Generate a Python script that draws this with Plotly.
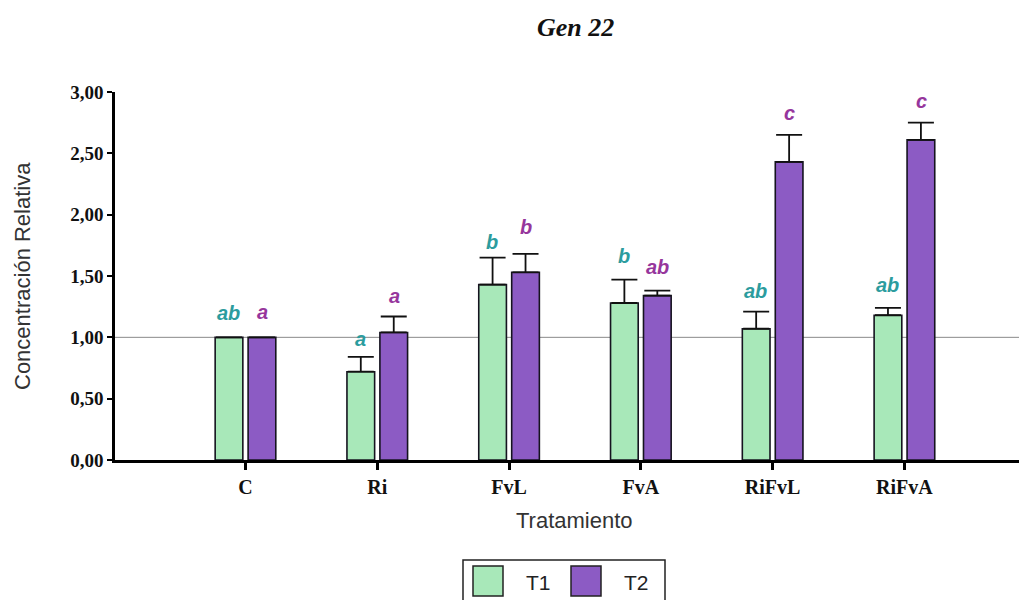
import plotly.graph_objects as go

categories = ["C", "Ri", "FvL", "FvA", "RiFvL", "RiFvA"]
t1_values = [1.00, 0.72, 1.43, 1.28, 1.07, 1.18]
t1_err = [0.00, 0.12, 0.22, 0.19, 0.14, 0.06]
t2_values = [1.00, 1.04, 1.53, 1.34, 2.43, 2.61]
t2_err = [0.00, 0.13, 0.15, 0.04, 0.22, 0.14]
t1_letters = ["ab", "a", "b", "b", "ab", "ab"]
t2_letters = ["a", "a", "b", "ab", "c", "c"]
t1_letter_y = [1.20, 0.99, 1.78, 1.66, 1.38, 1.43]
t2_letter_y = [1.21, 1.34, 1.90, 1.57, 2.83, 2.93]
y_ticks = [0, 0.5, 1.0, 1.5, 2.0, 2.5, 3.0]

GREEN = "#a8e8b9"
PURPLE = "#8c5bc4"
OUTLINE = "#15131f"
TEAL_TXT = "#2c9c9e"
PURP_TXT = "#96369c"

# page body has an 8px margin; figure coordinates = page coordinates - 8
OFF = 8
W, H = 1027 - OFF, 600 - OFF
L, T = 115 - OFF, 92 - OFF
pw, ph = 1027 - 115, 460 - 92
R = W - L - pw
B = H - T - ph


def px(x):
    return (x - OFF - L) / pw


def py(y):
    return (T + ph - (y - OFF)) / ph


fig = go.Figure()
fig.add_trace(go.Bar(
    name="T1", x=categories, y=t1_values,
    marker=dict(color=GREEN, line=dict(color=OUTLINE, width=1.6)),
    error_y=dict(type="data", symmetric=False, array=t1_err,
                 arrayminus=[0] * len(t1_err), color="#111111",
                 thickness=1.8, width=13),
    showlegend=False,
))
fig.add_trace(go.Bar(
    name="T2", x=categories, y=t2_values,
    marker=dict(color=PURPLE, line=dict(color=OUTLINE, width=1.6)),
    error_y=dict(type="data", symmetric=False, array=t2_err,
                 arrayminus=[0] * len(t2_err), color="#111111",
                 thickness=1.8, width=13),
    showlegend=False,
))

# reference line at 1
fig.add_shape(type="line", xref="paper", yref="y", x0=0, x1=1, y0=1, y1=1,
              line=dict(color="#8a8a8a", width=1), layer="below")

annotations = []
for i, c in enumerate(categories):
    annotations.append(dict(x=c, y=t1_letter_y[i], xref="x", yref="y",
                            text="<b><i>%s</i></b>" % t1_letters[i], showarrow=False,
                            xshift=-17, xanchor="center", yanchor="middle",
                            font=dict(family="Liberation Sans", size=20,
                                      color=TEAL_TXT)))
    annotations.append(dict(x=c, y=t2_letter_y[i], xref="x", yref="y",
                            text="<b><i>%s</i></b>" % t2_letters[i], showarrow=False,
                            xshift=17, xanchor="center", yanchor="middle",
                            font=dict(family="Liberation Sans", size=20,
                                      color=PURP_TXT)))

# title
annotations.append(dict(x=px(575), y=py(27), xref="paper", yref="paper",
                        xanchor="center", yanchor="middle",
                        text="<b><i>Gen 22</i></b>", showarrow=False,
                        font=dict(family="Liberation Serif", size=26,
                                  color="#111111")))
# x axis title
annotations.append(dict(x=px(574), y=py(520), xref="paper", yref="paper",
                        xanchor="center", yanchor="middle",
                        text="Tratamiento", showarrow=False,
                        font=dict(family="Liberation Sans", size=22, color="#333333")))
# y axis title
annotations.append(dict(x=px(22), y=py(276), xref="paper", yref="paper",
                        xanchor="center", yanchor="middle", textangle=-90,
                        text="Concentración Relativa", showarrow=False,
                        font=dict(family="Liberation Sans", size=22, color="#333333")))

# manual legend
shapes = [
    dict(type="rect", xref="paper", yref="paper",
         x0=px(463), x1=px(665), y0=py(606), y1=py(560),
         line=dict(color="#222222", width=1.5), fillcolor="white"),
    dict(type="rect", xref="paper", yref="paper",
         x0=px(473), x1=px(503), y0=py(596), y1=py(566),
         line=dict(color="#222222", width=1.5), fillcolor=GREEN),
    dict(type="rect", xref="paper", yref="paper",
         x0=px(571), x1=px(601), y0=py(596), y1=py(566),
         line=dict(color="#222222", width=1.5), fillcolor=PURPLE),
]
for s in shapes:
    fig.add_shape(**s)
annotations.append(dict(x=px(538), y=py(582), xref="paper", yref="paper",
                        xanchor="center", yanchor="middle",
                        text="T1", showarrow=False,
                        font=dict(family="Liberation Sans", size=21, color="#222222")))
annotations.append(dict(x=px(636), y=py(582), xref="paper", yref="paper",
                        xanchor="center", yanchor="middle",
                        text="T2", showarrow=False,
                        font=dict(family="Liberation Sans", size=21, color="#222222")))

fig.update_layout(
    width=W, height=H,
    margin=dict(l=L, r=R, t=T, b=B, pad=0, autoexpand=False),
    paper_bgcolor="white", plot_bgcolor="white",
    barmode="group", bargap=0.5, bargroupgap=0.16,
    annotations=annotations,
    xaxis=dict(
        type="category", range=[-0.99, 5.93], automargin=False,
        tickvals=categories, ticktext=["<b>%s</b>" % c for c in categories],
        showline=True, linecolor="#000000", linewidth=3,
        ticks="outside", ticklen=7, tickwidth=3, tickcolor="#000000",
        showgrid=False, zeroline=False,
        tickfont=dict(family="Liberation Serif", size=20, color="#111111"),
    ),
    yaxis=dict(
        range=[0, 3], automargin=False,
        tickvals=y_ticks,
        ticktext=["<b>%s</b>" % ("%.2f" % v).replace(".", ",") for v in y_ticks],
        showline=True, linecolor="#000000", linewidth=2.5,
        ticks="outside", ticklen=5, tickwidth=2, tickcolor="#000000",
        showgrid=False, zeroline=False,
        tickfont=dict(family="Liberation Serif", size=19, color="#111111"),
    ),
)

fig.write_html("out.html")
